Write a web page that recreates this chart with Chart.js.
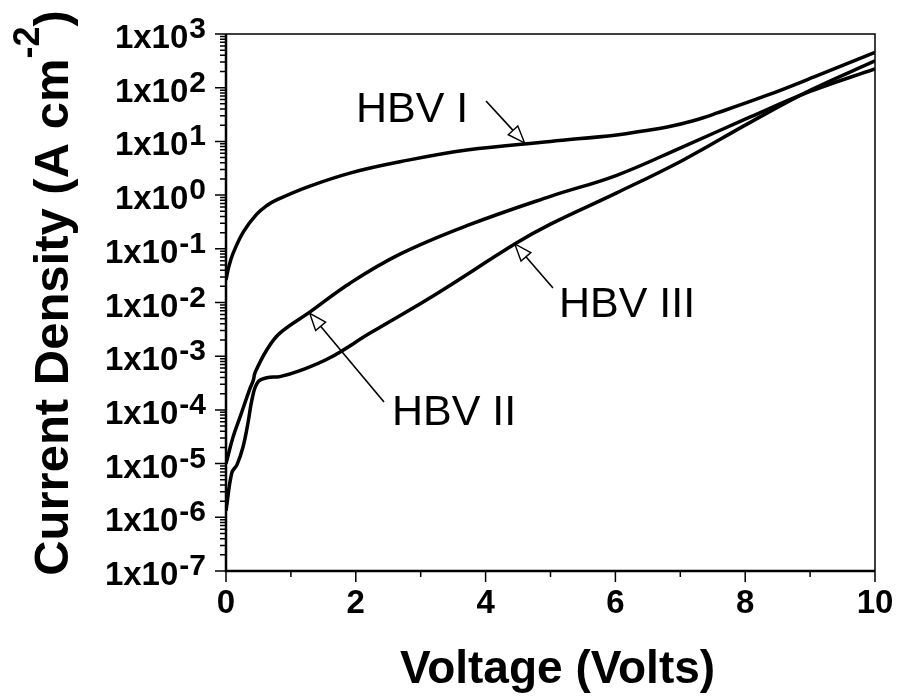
<!DOCTYPE html>
<html>
<head>
<meta charset="utf-8">
<script src="https://cdn.jsdelivr.net/npm/chart.js@4/dist/chart.umd.min.js"></script>
<style>
  html, body { margin: 0; padding: 0; background: #fff; }
  #wrap { width: 899px; height: 698px; }
</style>
</head>
<body>
<div id="wrap"><canvas id="ivChart" width="899" height="698"></canvas></div>
<script>
// Voltage (V) and current density (A cm^-2)
const voltsI = [0, 0.04, 0.11, 0.27, 0.47, 0.63, 0.78, 1.25, 1.91, 2.68, 3.71, 5.0, 6.02, 6.4, 6.8, 7.2, 7.57, 8.34, 9.1, 10];
const currentI = [2.63e-2, 4.47e-2, 8.3e-2, 0.209, 0.437, 0.64, 0.813, 1.41, 2.57, 4.17, 6.92, 10, 13.2, 15.5, 18.6, 24.3, 33.9, 72.4, 166, 457];

const voltsII = [0, 0.11, 0.22, 0.37, 0.42, 0.45, 0.63, 0.83, 1.29, 1.91, 2.68, 3.71, 5.0, 6.02, 7.04, 8.07, 9.0, 10];
const currentII = [1e-5, 3.16e-5, 7.59e-5, 2.51e-4, 3.55e-4, 5.01e-4, 1.32e-3, 2.69e-3, 6.61e-3, 2.29e-2, 7.94e-2, 0.269, 0.95, 2.34, 7.94, 28.2, 85.1, 224];

const voltsIII = [0, 0.09, 0.17, 0.26, 0.33, 0.42, 0.5, 0.63, 0.83, 1.14, 1.6, 2.22, 3.19, 4.48, 5.0, 6.02, 7.04, 8.07, 9.0, 10];
const currentIII = [1.32e-6, 6.76e-6, 9.55e-6, 2.0e-5, 5.01e-5, 2.0e-4, 3.39e-4, 3.98e-4, 4.17e-4, 5.37e-4, 9.33e-4, 2.69e-3, 1.32e-2, 0.129, 0.288, 1.10, 4.47, 22.4, 89.1, 316];

// Axis ticks
const xMajorTicks = [0, 2, 4, 6, 8, 10];
const xMinorTicks = [1, 3, 5, 7, 9];
const yDecades = [-7, -6, -5, -4, -3, -2, -1, 0, 1, 2, 3];

// Curve labels and the data point each arrow points at
const labelNames = ['HBV I', 'HBV II', 'HBV III'];
const arrowTipVolts = [4.6, 1.29, 4.45];
const arrowTipCurrent = [9.4, 6.3e-3, 0.123];

const FONT = '"Liberation Sans", Arial, Helvetica, sans-serif';

function toPoints(xs, ys) {
    return xs.map((v, i) => ({ x: v, y: ys[i] }));
}

function curve(label, xs, ys) {
    return {
        label: label,
        data: toPoints(xs, ys),
        borderColor: '#000',
        borderWidth: 3.5,
        pointRadius: 0,
        fill: false,
        tension: 0.4
    };
}

// Open-headed arrow like the original annotations
function drawArrow(ctx, x0, y0, x1, y1) {
    const ang = Math.atan2(y1 - y0, x1 - x0);
    const len = 17, half = 6.5;
    const bx = x1 - len * Math.cos(ang), by = y1 - len * Math.sin(ang);
    ctx.beginPath();
    ctx.moveTo(x0, y0);
    ctx.lineTo(bx, by);
    ctx.lineWidth = 1.6;
    ctx.stroke();
    ctx.beginPath();
    ctx.moveTo(x1, y1);
    ctx.lineTo(bx + half * Math.sin(ang), by - half * Math.cos(ang));
    ctx.lineTo(bx - half * Math.sin(ang), by + half * Math.cos(ang));
    ctx.closePath();
    ctx.fillStyle = '#fff';
    ctx.fill();
    ctx.lineWidth = 1.4;
    ctx.stroke();
}

const axesPlugin = {
    id: 'axesPlugin',
    afterDatasetsDraw(chart) {
        const { ctx, chartArea: a } = chart;
        const xs = chart.scales.x, ys = chart.scales.y;
        ctx.save();
        ctx.strokeStyle = '#000';
        ctx.fillStyle = '#000';

        // thin top and right frame
        ctx.lineWidth = 1.5;
        ctx.beginPath();
        ctx.moveTo(a.left, a.top);
        ctx.lineTo(a.right, a.top);
        ctx.lineTo(a.right, a.bottom);
        ctx.stroke();

        // heavier left and bottom axes
        ctx.lineWidth = 2.5;
        ctx.beginPath();
        ctx.moveTo(a.left, a.top);
        ctx.lineTo(a.left, a.bottom);
        ctx.lineTo(a.right, a.bottom);
        ctx.stroke();

        // y ticks (major + log minor), pointing out
        ctx.lineWidth = 1.5;
        ctx.beginPath();
        yDecades.forEach(k => {
            const py = ys.getPixelForValue(Math.pow(10, k));
            ctx.moveTo(a.left - 11, py);
            ctx.lineTo(a.left, py);
            if (k < 3) {
                for (let m = 2; m <= 9; m++) {
                    const pm = ys.getPixelForValue(m * Math.pow(10, k));
                    ctx.moveTo(a.left - 6, pm);
                    ctx.lineTo(a.left, pm);
                }
            }
        });
        // x ticks
        xMajorTicks.forEach(v => {
            const px = xs.getPixelForValue(v);
            ctx.moveTo(px, a.bottom);
            ctx.lineTo(px, a.bottom + 11);
        });
        xMinorTicks.forEach(v => {
            const px = xs.getPixelForValue(v);
            ctx.moveTo(px, a.bottom);
            ctx.lineTo(px, a.bottom + 6);
        });
        ctx.stroke();

        // y tick labels 1x10^k
        const right = a.left - 20;
        yDecades.forEach(k => {
            const py = ys.getPixelForValue(Math.pow(10, k));
            const sup = String(k);
            ctx.font = 'bold 30px ' + FONT;
            const ws = ctx.measureText(sup).width;
            ctx.font = 'bold 33px ' + FONT;
            const wm = ctx.measureText('1x10').width;
            ctx.textAlign = 'left';
            ctx.textBaseline = 'alphabetic';
            ctx.fillText('1x10', right - ws - wm - 1, py + 14);
            ctx.font = 'bold 30px ' + FONT;
            ctx.fillText(sup, right - ws, py + 4);
        });

        // x tick labels
        ctx.font = 'bold 33px ' + FONT;
        ctx.textAlign = 'center';
        xMajorTicks.forEach(v => {
            ctx.fillText(String(v), xs.getPixelForValue(v), a.bottom + 42);
        });

        // x axis title
        ctx.font = 'bold 46px ' + FONT;
        ctx.fillText('Voltage (Volts)', (a.left + a.right) / 2 + 7, 683);

        // y axis title, rotated, with superscript
        ctx.save();
        ctx.translate(68, 293);
        ctx.rotate(-Math.PI / 2);
        ctx.font = 'bold 49px ' + FONT;
        const t1 = 'Current Density (A cm';
        const w1 = ctx.measureText(t1).width;
        const w3 = ctx.measureText(')').width;
        ctx.font = 'bold 36px ' + FONT;
        const w2 = ctx.measureText('-2').width;
        const sx = -(w1 + w2 + w3) / 2;
        ctx.textAlign = 'left';
        ctx.font = 'bold 49px ' + FONT;
        ctx.fillText(t1, sx, 0);
        ctx.font = 'bold 36px ' + FONT;
        ctx.fillText('-2', sx + w1, -29);
        ctx.font = 'bold 49px ' + FONT;
        ctx.fillText(')', sx + w1 + w2, 0);
        ctx.restore();

        // curve labels and arrows
        ctx.font = '43px ' + FONT;
        ctx.textAlign = 'left';
        ctx.fillText(labelNames[0], 356, 122);
        ctx.fillText(labelNames[1], 392, 425);
        ctx.fillText(labelNames[2], 559, 317);
        const tails = [[486, 101], [384, 402], [553, 288]];
        for (let i = 0; i < 3; i++) {
            const tx = xs.getPixelForValue(arrowTipVolts[i]);
            const ty = ys.getPixelForValue(arrowTipCurrent[i]);
            drawArrow(ctx, tails[i][0], tails[i][1], tx, ty);
        }
        ctx.restore();
    }
};

new Chart(document.getElementById('ivChart'), {
    type: 'line',
    data: {
        datasets: [
            curve('HBV I', voltsI, currentI),
            curve('HBV II', voltsII, currentII),
            curve('HBV III', voltsIII, currentIII)
        ]
    },
    options: {
        responsive: false,
        animation: false,
        layout: { padding: { left: 226, top: 34, right: 24, bottom: 127 } },
        plugins: { legend: { display: false }, tooltip: { enabled: false } },
        scales: {
            x: { type: 'linear', min: 0, max: 10, display: false },
            y: { type: 'logarithmic', min: 1e-7, max: 1e3, display: false }
        }
    },
    plugins: [axesPlugin]
});
</script>
</body>
</html>
